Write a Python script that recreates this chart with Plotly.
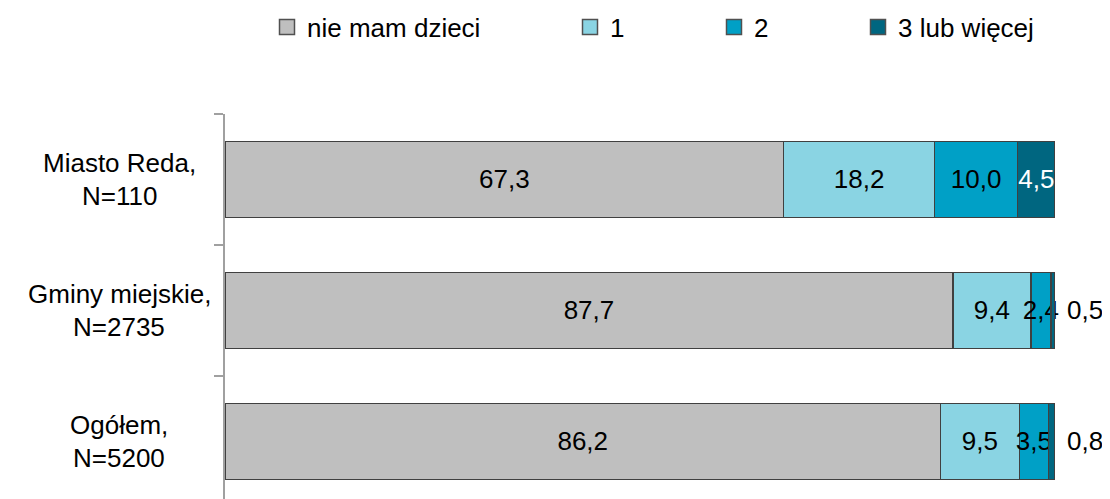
import plotly.graph_objects as go

categories = ["Ogółem, N=5200", "Gminy miejskie, N=2735", "Miasto Reda, N=110"]
label_line1 = ["Ogółem,", "Gminy miejskie,", "Miasto Reda,"]
label_line2 = ["N=5200", "N=2735", "N=110"]
series_names = ["nie mam dzieci", "1", "2", "3 lub więcej"]
values = {
    "nie mam dzieci": [86.2, 87.7, 67.3],
    "1": [9.5, 9.4, 18.2],
    "2": [3.5, 2.4, 10.0],
    "3 lub więcej": [0.8, 0.5, 4.5],
}
colors = ["#BFBFBF", "#8AD4E3", "#00A0C6", "#006680"]

FONT = "Liberation Sans, Arial, sans-serif"
FS = 26
OFF = 8  # page body offset
W, H = 1110 - OFF, 499 - OFF
L, R, T, B = 225 - OFF, 55, 114 - OFF, 0
PW = W - L - R


def fmt(v):
    return f"{v:.1f}".replace(".", ",")


fig = go.Figure()
for i, name in enumerate(series_names):
    vals = values[name]
    if name == "3 lub więcej":
        txt = [fmt(v) if v >= 1 else "" for v in vals]
        tcol = "white"
    else:
        txt = [fmt(v) for v in vals]
        tcol = "black"
    fig.add_trace(go.Bar(
        y=categories, x=vals, orientation="h", name=name,
        marker=dict(color=colors[i], line=dict(color="#404040", width=1.5)),
        text=txt, textposition="inside", insidetextanchor="middle", textangle=0,
        textfont=dict(color=tcol, family=FONT, size=FS),
        constraintext="none", cliponaxis=False, width=0.58,
        showlegend=False, hoverinfo="skip",
    ))

# small last-segment values shown to the right of the bar
last = values["3 lub więcej"]
for j, cat in enumerate(categories):
    if last[j] < 1:
        total = sum(values[n][j] for n in series_names)
        fig.add_annotation(
            x=total, y=cat, xref="x", yref="y", text=fmt(last[j]),
            showarrow=False, xanchor="left", yanchor="middle", xshift=10,
            font=dict(family=FONT, size=FS, color="black"),
        )

# legend entries (square markers), one legend per item for spacing
legend_box_x = [287, 590, 734, 878]
for i, name in enumerate(series_names):
    lg = "legend" if i == 0 else f"legend{i+1}"
    fig.add_trace(go.Scatter(
        x=[None], y=[None], mode="markers", name=name,
        marker=dict(symbol="square", size=15, color=colors[i],
                    line=dict(color="#505050", width=1.5)),
        legend=lg, showlegend=True,
    ))

layout_legends = {}
for i in range(4):
    lg = "legend" if i == 0 else f"legend{i+1}"
    layout_legends[lg] = dict(
        xref="container", yref="container",
        x=(legend_box_x[i] - OFF - 20) / W, y=1 - (30 - OFF - 3) / H,
        yanchor="middle", xanchor="left",
        font=dict(family=FONT, size=FS, color="black"),
        bgcolor="rgba(0,0,0,0)", borderwidth=0, itemwidth=30,
        orientation="h",
    )

# category labels (two centered lines, right-aligned block)
for cat, l1, l2 in zip(categories, label_line1, label_line2):
    for txt, shift in ((l1, 16.5), (l2, -16.5)):
        fig.add_annotation(
            x=(119 - 225) / PW, xref="paper", y=cat, yref="y",
            text=txt, showarrow=False, xanchor="center", yanchor="middle",
            yshift=shift, font=dict(family=FONT, size=FS, color="black"),
        )

fig.update_layout(
    width=W, height=H, margin=dict(l=L, r=R, t=T, b=B, pad=0),
    barmode="stack", paper_bgcolor="white", plot_bgcolor="white",
    separators=", ", uniformtext=dict(mode=False),
    **layout_legends,
)
fig.update_xaxes(range=[0, 100], visible=False, fixedrange=True)
fig.update_yaxes(
    type="category", categoryorder="array", categoryarray=categories,
    range=[-0.44, 2.5], showticklabels=False, tickson="boundaries",
    ticks="outside", ticklen=9, tickwidth=1.5, tickcolor="#A0A0A0",
    showline=True, linecolor="#A0A0A0", linewidth=1.5, showgrid=False,
    zeroline=False, fixedrange=True,
)

fig.write_html("out.html")
